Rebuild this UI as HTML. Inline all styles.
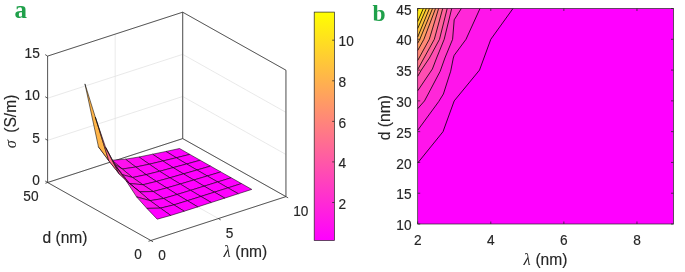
<!DOCTYPE html>
<html><head><meta charset="utf-8"><title>Figure</title>
<style>html,body{margin:0;padding:0;background:#fff}svg{display:block}</style></head>
<body><svg width="685" height="272" viewBox="0 0 685 272">
<rect x="0" y="0" width="685" height="272" fill="#fff"/>
<line x1="47.60" y1="182.50" x2="182.70" y2="138.60" stroke="#dfdfdf" stroke-width="0.7"/>
<line x1="182.70" y1="138.60" x2="285.95" y2="196.60" stroke="#dfdfdf" stroke-width="0.7"/>
<line x1="47.60" y1="140.37" x2="182.70" y2="96.47" stroke="#dfdfdf" stroke-width="0.7"/>
<line x1="182.70" y1="96.47" x2="285.95" y2="154.47" stroke="#dfdfdf" stroke-width="0.7"/>
<line x1="47.60" y1="98.23" x2="182.70" y2="54.33" stroke="#dfdfdf" stroke-width="0.7"/>
<line x1="182.70" y1="54.33" x2="285.95" y2="112.33" stroke="#dfdfdf" stroke-width="0.7"/>
<line x1="47.60" y1="56.10" x2="182.70" y2="12.20" stroke="#dfdfdf" stroke-width="0.7"/>
<line x1="182.70" y1="12.20" x2="285.95" y2="70.20" stroke="#dfdfdf" stroke-width="0.7"/>
<line x1="47.60" y1="182.50" x2="47.60" y2="56.10" stroke="#dfdfdf" stroke-width="0.7"/>
<line x1="47.60" y1="182.50" x2="150.85" y2="240.50" stroke="#dfdfdf" stroke-width="0.7"/>
<line x1="115.15" y1="160.55" x2="115.15" y2="34.15" stroke="#dfdfdf" stroke-width="0.7"/>
<line x1="115.15" y1="160.55" x2="218.40" y2="218.55" stroke="#dfdfdf" stroke-width="0.7"/>
<line x1="182.70" y1="138.60" x2="182.70" y2="12.20" stroke="#dfdfdf" stroke-width="0.7"/>
<line x1="182.70" y1="138.60" x2="285.95" y2="196.60" stroke="#dfdfdf" stroke-width="0.7"/>
<line x1="285.95" y1="196.60" x2="285.95" y2="70.20" stroke="#dfdfdf" stroke-width="0.7"/>
<line x1="285.95" y1="196.60" x2="150.85" y2="240.50" stroke="#dfdfdf" stroke-width="0.7"/>
<line x1="182.70" y1="138.60" x2="182.70" y2="12.20" stroke="#dfdfdf" stroke-width="0.7"/>
<line x1="182.70" y1="138.60" x2="47.60" y2="182.50" stroke="#dfdfdf" stroke-width="0.7"/>
<line x1="47.60" y1="182.50" x2="47.60" y2="56.10" stroke="#262626" stroke-width="0.75"/>
<line x1="182.70" y1="138.60" x2="182.70" y2="12.20" stroke="#262626" stroke-width="0.75"/>
<line x1="285.95" y1="196.60" x2="285.95" y2="70.20" stroke="#262626" stroke-width="0.75"/>
<line x1="47.60" y1="56.10" x2="182.70" y2="12.20" stroke="#262626" stroke-width="0.75"/>
<line x1="182.70" y1="12.20" x2="285.95" y2="70.20" stroke="#262626" stroke-width="0.75"/>
<line x1="47.60" y1="182.50" x2="182.70" y2="138.60" stroke="#262626" stroke-width="0.75"/>
<line x1="182.70" y1="138.60" x2="285.95" y2="196.60" stroke="#262626" stroke-width="0.75"/>
<line x1="47.60" y1="182.50" x2="150.85" y2="240.50" stroke="#262626" stroke-width="0.75"/>
<line x1="150.85" y1="240.50" x2="285.95" y2="196.60" stroke="#262626" stroke-width="0.75"/>
<polygon points="176.33,157.75 189.84,154.39 179.51,148.50 166.00,151.46" fill="#ff00ff" stroke="#000" stroke-width="0.55" stroke-linejoin="round"/>
<polygon points="162.82,160.98 176.33,157.75 166.00,151.46 152.50,154.22" fill="#ff04fb" stroke="#000" stroke-width="0.55" stroke-linejoin="round"/>
<polygon points="149.31,164.21 162.82,160.98 152.50,154.22 138.98,156.99" fill="#ff07f8" stroke="#000" stroke-width="0.55" stroke-linejoin="round"/>
<polygon points="135.80,167.03 149.31,164.21 138.98,156.99 125.47,159.18" fill="#ff0bf4" stroke="#000" stroke-width="0.55" stroke-linejoin="round"/>
<polygon points="122.29,169.03 135.80,167.03 125.47,159.18 111.96,160.22" fill="#ff11ee" stroke="#000" stroke-width="0.55" stroke-linejoin="round"/>
<polygon points="108.78,160.72 122.29,169.03 111.96,160.22 98.45,146.82" fill="#ff33cc" stroke="#000" stroke-width="0.55" stroke-linejoin="round"/>
<polygon points="95.27,117.03 108.78,160.72 98.45,146.82 84.95,83.88" fill="#ffb54a" stroke="#000" stroke-width="0.55" stroke-linejoin="round"/>
<polygon points="186.66,163.99 200.17,160.26 189.84,154.39 176.33,157.75" fill="#ff00ff" stroke="#000" stroke-width="0.55" stroke-linejoin="round"/>
<polygon points="173.14,167.64 186.66,163.99 176.33,157.75 162.82,160.98" fill="#ff01fe" stroke="#000" stroke-width="0.55" stroke-linejoin="round"/>
<polygon points="159.63,171.28 173.14,167.64 162.82,160.98 149.31,164.21" fill="#ff03fc" stroke="#000" stroke-width="0.55" stroke-linejoin="round"/>
<polygon points="146.12,174.66 159.63,171.28 149.31,164.21 135.80,167.03" fill="#ff06f9" stroke="#000" stroke-width="0.55" stroke-linejoin="round"/>
<polygon points="132.62,177.52 146.12,174.66 135.80,167.03 122.29,169.03" fill="#ff0af5" stroke="#000" stroke-width="0.55" stroke-linejoin="round"/>
<polygon points="119.11,173.76 132.62,177.52 122.29,169.03 108.78,160.72" fill="#ff20df" stroke="#000" stroke-width="0.55" stroke-linejoin="round"/>
<polygon points="105.60,147.32 119.11,173.76 108.78,160.72 95.27,117.03" fill="#ff738c" stroke="#000" stroke-width="0.55" stroke-linejoin="round"/>
<polygon points="196.98,170.03 210.49,166.10 200.17,160.26 186.66,163.99" fill="#ff00ff" stroke="#000" stroke-width="0.55" stroke-linejoin="round"/>
<polygon points="183.47,173.90 196.98,170.03 186.66,163.99 173.14,167.64" fill="#ff00ff" stroke="#000" stroke-width="0.55" stroke-linejoin="round"/>
<polygon points="169.96,177.77 183.47,173.90 173.14,167.64 159.63,171.28" fill="#ff01fe" stroke="#000" stroke-width="0.55" stroke-linejoin="round"/>
<polygon points="156.45,181.45 169.96,177.77 159.63,171.28 146.12,174.66" fill="#ff03fc" stroke="#000" stroke-width="0.55" stroke-linejoin="round"/>
<polygon points="142.94,184.77 156.45,181.45 146.12,174.66 132.62,177.52" fill="#ff06f9" stroke="#000" stroke-width="0.55" stroke-linejoin="round"/>
<polygon points="129.43,183.47 142.94,184.77 132.62,177.52 119.11,173.76" fill="#ff15ea" stroke="#000" stroke-width="0.55" stroke-linejoin="round"/>
<polygon points="115.92,166.31 129.43,183.47 119.11,173.76 105.60,147.32" fill="#ff4fb0" stroke="#000" stroke-width="0.55" stroke-linejoin="round"/>
<polygon points="207.31,175.99 220.81,171.92 210.49,166.10 196.98,170.03" fill="#ff00ff" stroke="#000" stroke-width="0.55" stroke-linejoin="round"/>
<polygon points="193.79,180.01 207.31,175.99 196.98,170.03 183.47,173.90" fill="#ff00ff" stroke="#000" stroke-width="0.55" stroke-linejoin="round"/>
<polygon points="180.28,184.03 193.79,180.01 183.47,173.90 169.96,177.77" fill="#ff00ff" stroke="#000" stroke-width="0.55" stroke-linejoin="round"/>
<polygon points="166.77,187.91 180.28,184.03 169.96,177.77 156.45,181.45" fill="#ff02fd" stroke="#000" stroke-width="0.55" stroke-linejoin="round"/>
<polygon points="153.26,191.54 166.77,187.91 156.45,181.45 142.94,184.77" fill="#ff04fb" stroke="#000" stroke-width="0.55" stroke-linejoin="round"/>
<polygon points="139.75,191.88 153.26,191.54 142.94,184.77 129.43,183.47" fill="#ff0ef1" stroke="#000" stroke-width="0.55" stroke-linejoin="round"/>
<polygon points="126.25,180.91 139.75,191.88 129.43,183.47 115.92,166.31" fill="#ff38c7" stroke="#000" stroke-width="0.55" stroke-linejoin="round"/>
<polygon points="217.63,181.97 231.14,177.75 220.81,171.92 207.31,175.99" fill="#ff00ff" stroke="#000" stroke-width="0.55" stroke-linejoin="round"/>
<polygon points="204.12,186.16 217.63,181.97 207.31,175.99 193.79,180.01" fill="#ff00ff" stroke="#000" stroke-width="0.55" stroke-linejoin="round"/>
<polygon points="190.61,190.35 204.12,186.16 193.79,180.01 180.28,184.03" fill="#ff00ff" stroke="#000" stroke-width="0.55" stroke-linejoin="round"/>
<polygon points="177.10,194.47 190.61,190.35 180.28,184.03 166.77,187.91" fill="#ff00ff" stroke="#000" stroke-width="0.55" stroke-linejoin="round"/>
<polygon points="163.59,198.46 177.10,194.47 166.77,187.91 153.26,191.54" fill="#ff01fe" stroke="#000" stroke-width="0.55" stroke-linejoin="round"/>
<polygon points="150.08,200.68 163.59,198.46 153.26,191.54 139.75,191.88" fill="#ff06f9" stroke="#000" stroke-width="0.55" stroke-linejoin="round"/>
<polygon points="136.57,196.85 150.08,200.68 139.75,191.88 126.25,180.91" fill="#ff1ce3" stroke="#000" stroke-width="0.55" stroke-linejoin="round"/>
<polygon points="227.96,187.87 241.47,183.57 231.14,177.75 217.63,181.97" fill="#ff00ff" stroke="#000" stroke-width="0.55" stroke-linejoin="round"/>
<polygon points="214.44,192.16 227.96,187.87 217.63,181.97 204.12,186.16" fill="#ff00ff" stroke="#000" stroke-width="0.55" stroke-linejoin="round"/>
<polygon points="200.93,196.45 214.44,192.16 204.12,186.16 190.61,190.35" fill="#ff00ff" stroke="#000" stroke-width="0.55" stroke-linejoin="round"/>
<polygon points="187.42,200.71 200.93,196.45 190.61,190.35 177.10,194.47" fill="#ff00ff" stroke="#000" stroke-width="0.55" stroke-linejoin="round"/>
<polygon points="173.91,204.89 187.42,200.71 177.10,194.47 163.59,198.46" fill="#ff00ff" stroke="#000" stroke-width="0.55" stroke-linejoin="round"/>
<polygon points="160.41,208.17 173.91,204.89 163.59,198.46 150.08,200.68" fill="#ff02fd" stroke="#000" stroke-width="0.55" stroke-linejoin="round"/>
<polygon points="146.90,208.39 160.41,208.17 150.08,200.68 136.57,196.85" fill="#ff0df2" stroke="#000" stroke-width="0.55" stroke-linejoin="round"/>
<polygon points="238.28,193.76 251.79,189.39 241.47,183.57 227.96,187.87" fill="#ff00ff" stroke="#000" stroke-width="0.55" stroke-linejoin="round"/>
<polygon points="224.77,198.14 238.28,193.76 227.96,187.87 214.44,192.16" fill="#ff00ff" stroke="#000" stroke-width="0.55" stroke-linejoin="round"/>
<polygon points="211.26,202.51 224.77,198.14 214.44,192.16 200.93,196.45" fill="#ff00ff" stroke="#000" stroke-width="0.55" stroke-linejoin="round"/>
<polygon points="197.75,206.88 211.26,202.51 200.93,196.45 187.42,200.71" fill="#ff00ff" stroke="#000" stroke-width="0.55" stroke-linejoin="round"/>
<polygon points="184.24,211.23 197.75,206.88 187.42,200.71 173.91,204.89" fill="#ff00ff" stroke="#000" stroke-width="0.55" stroke-linejoin="round"/>
<polygon points="170.73,215.45 184.24,211.23 173.91,204.89 160.41,208.17" fill="#ff00ff" stroke="#000" stroke-width="0.55" stroke-linejoin="round"/>
<polygon points="157.22,219.16 170.73,215.45 160.41,208.17 146.90,208.39" fill="#ff00ff" stroke="#000" stroke-width="0.55" stroke-linejoin="round"/>
<line x1="47.60" y1="182.50" x2="45.20" y2="181.00" stroke="#262626" stroke-width="0.75"/>
<text transform="translate(39.80,184.70) scale(1.0,1.1)" font-size="13.7" text-anchor="end" fill="#262626" font-family="Liberation Sans, Arial, sans-serif" stroke="#262626" stroke-width="0.15" >0</text>
<line x1="47.60" y1="140.37" x2="45.20" y2="138.87" stroke="#262626" stroke-width="0.75"/>
<text transform="translate(39.80,142.57) scale(1.0,1.1)" font-size="13.7" text-anchor="end" fill="#262626" font-family="Liberation Sans, Arial, sans-serif" stroke="#262626" stroke-width="0.15" >5</text>
<line x1="47.60" y1="98.23" x2="45.20" y2="96.73" stroke="#262626" stroke-width="0.75"/>
<text transform="translate(39.80,100.43) scale(1.0,1.1)" font-size="13.7" text-anchor="end" fill="#262626" font-family="Liberation Sans, Arial, sans-serif" stroke="#262626" stroke-width="0.15" >10</text>
<line x1="47.60" y1="56.10" x2="45.20" y2="54.60" stroke="#262626" stroke-width="0.75"/>
<text transform="translate(39.80,58.30) scale(1.0,1.1)" font-size="13.7" text-anchor="end" fill="#262626" font-family="Liberation Sans, Arial, sans-serif" stroke="#262626" stroke-width="0.15" >15</text>
<line x1="150.85" y1="240.50" x2="148.45" y2="241.30" stroke="#262626" stroke-width="0.75"/>
<text transform="translate(141.85,258.90) scale(1.0,1.1)" font-size="13.7" text-anchor="end" fill="#262626" font-family="Liberation Sans, Arial, sans-serif" stroke="#262626" stroke-width="0.15" >0</text>
<line x1="47.60" y1="182.50" x2="45.40" y2="183.30" stroke="#262626" stroke-width="0.75"/>
<text transform="translate(38.60,200.90) scale(1.0,1.1)" font-size="13.7" text-anchor="end" fill="#262626" font-family="Liberation Sans, Arial, sans-serif" stroke="#262626" stroke-width="0.15" >50</text>
<line x1="150.85" y1="240.50" x2="153.05" y2="241.80" stroke="#262626" stroke-width="0.75"/>
<text transform="translate(158.15,259.60) scale(1.0,1.1)" font-size="13.7" text-anchor="start" fill="#262626" font-family="Liberation Sans, Arial, sans-serif" stroke="#262626" stroke-width="0.15" >0</text>
<line x1="218.40" y1="218.55" x2="220.60" y2="219.85" stroke="#262626" stroke-width="0.75"/>
<text transform="translate(225.70,237.65) scale(1.0,1.1)" font-size="13.7" text-anchor="start" fill="#262626" font-family="Liberation Sans, Arial, sans-serif" stroke="#262626" stroke-width="0.15" >5</text>
<line x1="285.95" y1="196.60" x2="288.15" y2="197.90" stroke="#262626" stroke-width="0.75"/>
<text transform="translate(293.25,215.70) scale(1.0,1.1)" font-size="13.7" text-anchor="start" fill="#262626" font-family="Liberation Sans, Arial, sans-serif" stroke="#262626" stroke-width="0.15" >10</text>
<text transform="translate(65.00,243.30) scale(1,1)" font-size="15.6" text-anchor="middle" fill="#262626" font-family="Liberation Sans, Arial, sans-serif" stroke="#262626" stroke-width="0.15" >d (nm)</text>
<text x="223.6" y="257.3" font-size="16.5" fill="#262626" font-family="Liberation Serif, serif" font-style="italic">λ</text>
<text transform="translate(235.20,257.20) scale(1,1)" font-size="15.6" text-anchor="start" fill="#262626" font-family="Liberation Sans, Arial, sans-serif" stroke="#262626" stroke-width="0.15" >(nm)</text>
<text transform="translate(15.6,148.2) rotate(-90)" font-size="16.5" fill="#262626" font-family="Liberation Serif, serif" font-style="italic">σ</text>
<text transform="translate(15.6,113.7) rotate(-90)" font-size="15.6" text-anchor="middle" fill="#262626" font-family="Liberation Sans, Arial, sans-serif" stroke="#262626" stroke-width="0.15">(S/m)</text>
<defs><linearGradient id="cb" x1="0" y1="0" x2="0" y2="1"><stop offset="0" stop-color="#ffff00"/><stop offset="1" stop-color="#ff00ff"/></linearGradient></defs>
<rect x="314.20" y="12.10" width="20.20" height="228.40" fill="url(#cb)" stroke="#262626" stroke-width="0.7"/>
<line x1="332.20" y1="40.20" x2="334.40" y2="40.20" stroke="#262626" stroke-width="0.75"/>
<text transform="translate(338.60,46.30) scale(1.0,1.1)" font-size="13.7" text-anchor="start" fill="#262626" font-family="Liberation Sans, Arial, sans-serif" stroke="#262626" stroke-width="0.15" >10</text>
<line x1="332.20" y1="80.80" x2="334.40" y2="80.80" stroke="#262626" stroke-width="0.75"/>
<text transform="translate(338.60,86.90) scale(1.0,1.1)" font-size="13.7" text-anchor="start" fill="#262626" font-family="Liberation Sans, Arial, sans-serif" stroke="#262626" stroke-width="0.15" >8</text>
<line x1="332.20" y1="121.40" x2="334.40" y2="121.40" stroke="#262626" stroke-width="0.75"/>
<text transform="translate(338.60,127.50) scale(1.0,1.1)" font-size="13.7" text-anchor="start" fill="#262626" font-family="Liberation Sans, Arial, sans-serif" stroke="#262626" stroke-width="0.15" >6</text>
<line x1="332.20" y1="161.90" x2="334.40" y2="161.90" stroke="#262626" stroke-width="0.75"/>
<text transform="translate(338.60,168.00) scale(1.0,1.1)" font-size="13.7" text-anchor="start" fill="#262626" font-family="Liberation Sans, Arial, sans-serif" stroke="#262626" stroke-width="0.15" >4</text>
<line x1="332.20" y1="202.50" x2="334.40" y2="202.50" stroke="#262626" stroke-width="0.75"/>
<text transform="translate(338.60,208.60) scale(1.0,1.1)" font-size="13.7" text-anchor="start" fill="#262626" font-family="Liberation Sans, Arial, sans-serif" stroke="#262626" stroke-width="0.15" >2</text>
<rect x="417.70" y="8.50" width="255.80" height="215.50" fill="#ff00ff"/>
<polygon points="417.70,8.50 513.00,8.50 490.80,39.30 479.50,70.10 454.20,100.90 443.00,131.70 417.70,163.00" fill="#ff14eb" stroke="none"/>
<polygon points="417.70,8.50 480.00,8.50 466.00,39.30 454.20,55.30 453.30,58.00 450.70,71.20 443.40,94.00 438.70,101.60 417.70,130.30" fill="#ff27d8" stroke="none"/>
<polygon points="417.70,8.50 461.30,8.50 454.20,19.80 452.60,39.30 444.90,58.00 440.20,71.20 428.20,94.00 424.50,100.90 417.70,108.70" fill="#ff3bc4" stroke="none"/>
<polygon points="417.70,8.50 451.70,8.50 444.20,39.30 436.60,58.00 432.40,69.00 417.70,90.80" fill="#ff4eb1" stroke="none"/>
<polygon points="417.70,8.50 447.20,8.50 439.50,39.30 429.40,58.00 421.30,70.10 417.70,76.30" fill="#ff629d" stroke="none"/>
<polygon points="417.70,8.50 442.70,8.50 434.30,39.30 417.70,69.50" fill="#ff7689" stroke="none"/>
<polygon points="417.70,8.50 438.60,8.50 429.30,39.30 417.70,60.50" fill="#ff8976" stroke="none"/>
<polygon points="417.70,8.50 435.50,8.50 423.90,39.30 417.70,50.50" fill="#ff9d62" stroke="none"/>
<polygon points="417.70,8.50 432.50,8.50 419.80,39.30 417.70,43.20" fill="#ffb14e" stroke="none"/>
<polygon points="417.70,8.50 429.40,8.50 417.70,37.00" fill="#ffc43b" stroke="none"/>
<polygon points="417.70,8.50 426.30,8.50 417.70,28.50" fill="#ffd827" stroke="none"/>
<polygon points="417.70,8.50 423.30,8.50 417.70,21.50" fill="#ffeb14" stroke="none"/>
<polyline points="423.30,8.50 417.70,21.50" fill="none" stroke="#000" stroke-width="0.8" stroke-linejoin="round"/>
<polyline points="426.30,8.50 417.70,28.50" fill="none" stroke="#000" stroke-width="0.8" stroke-linejoin="round"/>
<polyline points="429.40,8.50 417.70,37.00" fill="none" stroke="#000" stroke-width="0.8" stroke-linejoin="round"/>
<polyline points="432.50,8.50 419.80,39.30 417.70,43.20" fill="none" stroke="#000" stroke-width="0.8" stroke-linejoin="round"/>
<polyline points="435.50,8.50 423.90,39.30 417.70,50.50" fill="none" stroke="#000" stroke-width="0.8" stroke-linejoin="round"/>
<polyline points="438.60,8.50 429.30,39.30 417.70,60.50" fill="none" stroke="#000" stroke-width="0.8" stroke-linejoin="round"/>
<polyline points="442.70,8.50 434.30,39.30 417.70,69.50" fill="none" stroke="#000" stroke-width="0.8" stroke-linejoin="round"/>
<polyline points="447.20,8.50 439.50,39.30 429.40,58.00 421.30,70.10 417.70,76.30" fill="none" stroke="#000" stroke-width="0.8" stroke-linejoin="round"/>
<polyline points="451.70,8.50 444.20,39.30 436.60,58.00 432.40,69.00 417.70,90.80" fill="none" stroke="#000" stroke-width="0.8" stroke-linejoin="round"/>
<polyline points="461.30,8.50 454.20,19.80 452.60,39.30 444.90,58.00 440.20,71.20 428.20,94.00 424.50,100.90 417.70,108.70" fill="none" stroke="#000" stroke-width="0.8" stroke-linejoin="round"/>
<polyline points="480.00,8.50 466.00,39.30 454.20,55.30 453.30,58.00 450.70,71.20 443.40,94.00 438.70,101.60 417.70,130.30" fill="none" stroke="#000" stroke-width="0.8" stroke-linejoin="round"/>
<polyline points="513.00,8.50 490.80,39.30 479.50,70.10 454.20,100.90 443.00,131.70 417.70,163.00" fill="none" stroke="#000" stroke-width="0.8" stroke-linejoin="round"/>
<rect x="417.70" y="8.50" width="255.80" height="215.50" fill="none" stroke="#262626" stroke-width="0.7"/>
<line x1="417.70" y1="224.00" x2="417.70" y2="221.50" stroke="#262626" stroke-width="0.75"/>
<line x1="417.70" y1="8.50" x2="417.70" y2="11.00" stroke="#262626" stroke-width="0.75"/>
<text transform="translate(417.70,244.70) scale(1.0,1.1)" font-size="13.7" text-anchor="middle" fill="#262626" font-family="Liberation Sans, Arial, sans-serif" stroke="#262626" stroke-width="0.15" >2</text>
<line x1="490.79" y1="224.00" x2="490.79" y2="221.50" stroke="#262626" stroke-width="0.75"/>
<line x1="490.79" y1="8.50" x2="490.79" y2="11.00" stroke="#262626" stroke-width="0.75"/>
<text transform="translate(490.79,244.70) scale(1.0,1.1)" font-size="13.7" text-anchor="middle" fill="#262626" font-family="Liberation Sans, Arial, sans-serif" stroke="#262626" stroke-width="0.15" >4</text>
<line x1="563.87" y1="224.00" x2="563.87" y2="221.50" stroke="#262626" stroke-width="0.75"/>
<line x1="563.87" y1="8.50" x2="563.87" y2="11.00" stroke="#262626" stroke-width="0.75"/>
<text transform="translate(563.87,244.70) scale(1.0,1.1)" font-size="13.7" text-anchor="middle" fill="#262626" font-family="Liberation Sans, Arial, sans-serif" stroke="#262626" stroke-width="0.15" >6</text>
<line x1="636.96" y1="224.00" x2="636.96" y2="221.50" stroke="#262626" stroke-width="0.75"/>
<line x1="636.96" y1="8.50" x2="636.96" y2="11.00" stroke="#262626" stroke-width="0.75"/>
<text transform="translate(636.96,244.70) scale(1.0,1.1)" font-size="13.7" text-anchor="middle" fill="#262626" font-family="Liberation Sans, Arial, sans-serif" stroke="#262626" stroke-width="0.15" >8</text>
<line x1="417.70" y1="224.00" x2="420.20" y2="224.00" stroke="#262626" stroke-width="0.75"/>
<line x1="673.50" y1="224.00" x2="671.00" y2="224.00" stroke="#262626" stroke-width="0.75"/>
<text transform="translate(411.50,230.10) scale(1.0,1.1)" font-size="13.7" text-anchor="end" fill="#262626" font-family="Liberation Sans, Arial, sans-serif" stroke="#262626" stroke-width="0.15" >10</text>
<line x1="417.70" y1="193.21" x2="420.20" y2="193.21" stroke="#262626" stroke-width="0.75"/>
<line x1="673.50" y1="193.21" x2="671.00" y2="193.21" stroke="#262626" stroke-width="0.75"/>
<text transform="translate(411.50,199.31) scale(1.0,1.1)" font-size="13.7" text-anchor="end" fill="#262626" font-family="Liberation Sans, Arial, sans-serif" stroke="#262626" stroke-width="0.15" >15</text>
<line x1="417.70" y1="162.43" x2="420.20" y2="162.43" stroke="#262626" stroke-width="0.75"/>
<line x1="673.50" y1="162.43" x2="671.00" y2="162.43" stroke="#262626" stroke-width="0.75"/>
<text transform="translate(411.50,168.53) scale(1.0,1.1)" font-size="13.7" text-anchor="end" fill="#262626" font-family="Liberation Sans, Arial, sans-serif" stroke="#262626" stroke-width="0.15" >20</text>
<line x1="417.70" y1="131.64" x2="420.20" y2="131.64" stroke="#262626" stroke-width="0.75"/>
<line x1="673.50" y1="131.64" x2="671.00" y2="131.64" stroke="#262626" stroke-width="0.75"/>
<text transform="translate(411.50,137.74) scale(1.0,1.1)" font-size="13.7" text-anchor="end" fill="#262626" font-family="Liberation Sans, Arial, sans-serif" stroke="#262626" stroke-width="0.15" >25</text>
<line x1="417.70" y1="100.86" x2="420.20" y2="100.86" stroke="#262626" stroke-width="0.75"/>
<line x1="673.50" y1="100.86" x2="671.00" y2="100.86" stroke="#262626" stroke-width="0.75"/>
<text transform="translate(411.50,106.96) scale(1.0,1.1)" font-size="13.7" text-anchor="end" fill="#262626" font-family="Liberation Sans, Arial, sans-serif" stroke="#262626" stroke-width="0.15" >30</text>
<line x1="417.70" y1="70.07" x2="420.20" y2="70.07" stroke="#262626" stroke-width="0.75"/>
<line x1="673.50" y1="70.07" x2="671.00" y2="70.07" stroke="#262626" stroke-width="0.75"/>
<text transform="translate(411.50,76.17) scale(1.0,1.1)" font-size="13.7" text-anchor="end" fill="#262626" font-family="Liberation Sans, Arial, sans-serif" stroke="#262626" stroke-width="0.15" >35</text>
<line x1="417.70" y1="39.29" x2="420.20" y2="39.29" stroke="#262626" stroke-width="0.75"/>
<line x1="673.50" y1="39.29" x2="671.00" y2="39.29" stroke="#262626" stroke-width="0.75"/>
<text transform="translate(411.50,45.39) scale(1.0,1.1)" font-size="13.7" text-anchor="end" fill="#262626" font-family="Liberation Sans, Arial, sans-serif" stroke="#262626" stroke-width="0.15" >40</text>
<line x1="417.70" y1="8.50" x2="420.20" y2="8.50" stroke="#262626" stroke-width="0.75"/>
<line x1="673.50" y1="8.50" x2="671.00" y2="8.50" stroke="#262626" stroke-width="0.75"/>
<text transform="translate(411.50,14.60) scale(1.0,1.1)" font-size="13.7" text-anchor="end" fill="#262626" font-family="Liberation Sans, Arial, sans-serif" stroke="#262626" stroke-width="0.15" >45</text>
<text x="523.6" y="265.4" font-size="16.5" fill="#262626" font-family="Liberation Serif, serif" font-style="italic">λ</text>
<text transform="translate(535.40,265.30) scale(1,1)" font-size="15.6" text-anchor="start" fill="#262626" font-family="Liberation Sans, Arial, sans-serif" stroke="#262626" stroke-width="0.15" >(nm)</text>
<text transform="translate(390.3,117.6) rotate(-90)" font-size="15.6" text-anchor="middle" fill="#262626" font-family="Liberation Sans, Arial, sans-serif" stroke="#262626" stroke-width="0.15">d (nm)</text>
<text x="14.5" y="18.4" font-size="25" font-weight="bold" font-family="Liberation Serif, Times New Roman, serif" fill="#1fa04a">a</text>
<text x="372.5" y="20.5" font-size="23.5" font-weight="bold" font-family="Liberation Serif, Times New Roman, serif" fill="#1fa04a">b</text>
</svg></body></html>
